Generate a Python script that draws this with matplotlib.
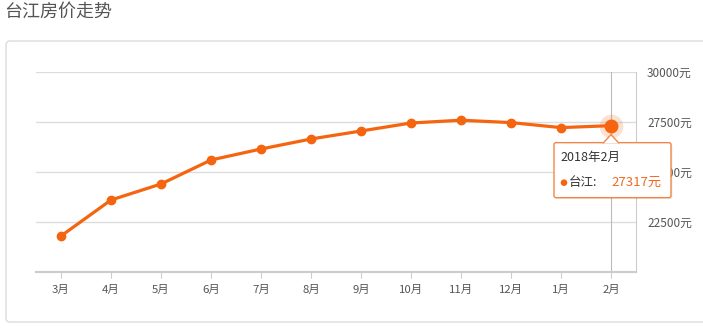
import matplotlib
matplotlib.use("Agg")
import matplotlib.pyplot as plt
from matplotlib.patches import FancyBboxPatch, Polygon, Circle
import numpy as np

plt.rcParams['font.family'] = ['Noto Sans CJK SC', 'DejaVu Sans']

title = "台江房价走势"
months = ["3月", "4月", "5月", "6月", "7月", "8月", "9月", "10月", "11月", "12月", "1月", "2月"]
prices = [21800, 23600, 24400, 25600, 26150, 26650, 27050, 27450, 27590, 27470, 27220, 27317]
y_ticks = [22500, 25000, 27500, 30000]
y_tick_labels = ["22500元", "25000元", "27500元", "30000元"]
series_name = "台江"
tooltip_title = "2018年2月"

W, H = 703, 331
orange = "#f5650f"
fig = plt.figure(figsize=(W / 100, H / 100), dpi=100)

# background overlay (pixel coords)
bg = fig.add_axes([0, 0, 1, 1], zorder=0)
bg.set_xlim(0, W); bg.set_ylim(H, 0); bg.axis("off")
bg.add_patch(FancyBboxPatch((6, 41), 720, 281, boxstyle="round,pad=0,rounding_size=4",
                            fc="white", ec="#dcdcdc", lw=1))
bg.text(4, 12, title, fontsize=13, color="#555555", va="center", ha="left")

# main axes
ax = fig.add_axes([36 / W, (H - 272) / H, 600 / W, 200 / H], zorder=1)
ax.patch.set_alpha(0)
x = np.arange(len(months))
ax.set_xlim(-0.5, len(months) - 0.5)
ax.set_ylim(20000, 30000)
for yt in y_ticks:
    ax.axhline(yt, color="#dddddd", lw=1, zorder=0)
ax.axvline(x[-1], color="#bbbbbb", lw=0.8, zorder=1)
ax.plot(x, prices, color=orange, lw=2.3, marker="o", ms=6, zorder=3, solid_capstyle="round")
ax.plot(x[-1], prices[-1], "o", ms=17, color=orange, alpha=0.2, mec="none", zorder=2)
ax.plot(x[-1], prices[-1], "o", ms=9, color=orange, zorder=4)

for s in ["left", "top"]:
    ax.spines[s].set_visible(False)
ax.spines["bottom"].set_color("#cccccc"); ax.spines["bottom"].set_linewidth(1.5)
ax.spines["right"].set_color("#cccccc"); ax.spines["right"].set_linewidth(0.8)
ax.set_xticks(x)
ax.set_xticklabels(months)
ax.tick_params(axis="x", colors="#cccccc", labelcolor="#555555", labelsize=8.2, length=4, pad=5)
ax.yaxis.tick_right()
ax.set_yticks(y_ticks)
ax.set_yticklabels(y_tick_labels)
ax.tick_params(axis="y", length=0, labelcolor="#555555", labelsize=8.5, pad=8)

# tooltip overlay
fig.canvas.draw()
top = fig.add_axes([0, 0, 1, 1], zorder=3)
top.set_xlim(0, W); top.set_ylim(H, 0); top.axis("off")
px, py = ax.transData.transform((x[-1], prices[-1]))
py = H - py
bx0, bx1 = px - 57, px + 60
by0, by1 = py + 17, py + 72
top.add_patch(FancyBboxPatch((bx0 + 1.5, by0 + 1.5), bx1 - bx0, by1 - by0,
                             boxstyle="round,pad=0,rounding_size=2", fc="#000000", alpha=0.08, ec="none"))
top.add_patch(FancyBboxPatch((bx0, by0), bx1 - bx0, by1 - by0,
                             boxstyle="round,pad=0,rounding_size=2", fc="white", ec="#f0874a", lw=1))
top.add_patch(Polygon([[px - 8, by0 + 0.6], [px, by0 - 8], [px + 8, by0 + 0.6]],
                      closed=False, fc="white", ec="#f0874a", lw=1))
top.text(bx0 + 6, by0 + 15, tooltip_title, fontsize=9, color="#333333", va="center")
top.add_patch(Circle((bx0 + 10, by0 + 40), 2.6, color=orange))
top.text(bx0 + 15, by0 + 40, series_name + ":", fontsize=9, color="#333333", va="center")
top.text(bx0 + 57, by0 + 40, f"{prices[-1]}元", fontsize=9.5, color="#f06a1e", va="center")

fig.savefig("out.png", dpi=100)
